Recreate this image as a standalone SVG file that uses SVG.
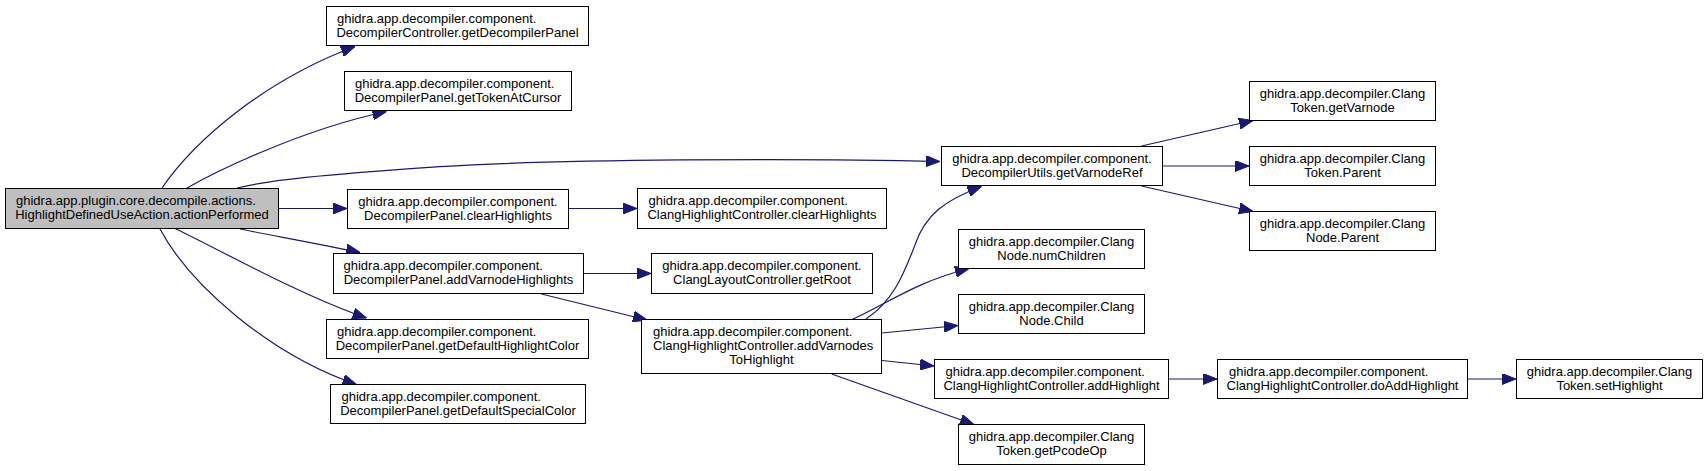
<svg xmlns="http://www.w3.org/2000/svg" width="1708" height="471" viewBox="0 0 1708 471">
<style>
rect{fill:#ffffff;stroke:#000000;stroke-width:1}
.root rect{fill:#bfbfbf}
text{font-family:"Liberation Sans",Arial,sans-serif;font-size:13px;fill:#000000}
.m{text-anchor:middle}
.e path{fill:none;stroke:#191970;stroke-width:1.2;marker-end:url(#ah)}
</style>
<defs>
<marker id="ah" markerUnits="userSpaceOnUse" markerWidth="14" markerHeight="11" viewBox="0 0 14 11" refX="14" refY="5.5" orient="auto">
<path d="M0,0 L14,5.5 L0,11 z" fill="#191970" stroke="#191970" stroke-width="1"/>
</marker>
</defs>
<rect x="0" y="0" width="1708" height="471" style="fill:#ffffff;stroke:none"/>
<g id="edges" class="e">
<path d="M162,188 C195,140 265,80 355,46.5"/>
<path d="M187,188 C215,172 300,130 386.5,111.5"/>
<path d="M237,188 C270,180 320,175 440,166.7 C560,159 800,158 940,161.5"/>
<path d="M279,208.5 H347"/>
<path d="M240,229 C270,235 330,246 360,252.5"/>
<path d="M175,228.5 C220,250 300,295 366.5,318"/>
<path d="M160,229 C190,285 270,355 356.5,384.5"/>
<path d="M569,208.5 H637"/>
<path d="M584,273.5 H651"/>
<path d="M541.5,294 L647,320"/>
<path d="M866,319 C895,300 905,270 915,245 C925,215 945,200 981.5,186.5"/>
<path d="M852,319.5 C885,305 915,282 969,268.5"/>
<path d="M882,333 L958,325.5"/>
<path d="M882,360.5 L934,366"/>
<path d="M831.7,374 L974,424.5"/>
<path d="M1141.5,146 L1253,120.5"/>
<path d="M1163,166 H1249"/>
<path d="M1141.5,186 L1253,211.5"/>
<path d="M1169,379 H1217"/>
<path d="M1468,379 H1516"/>
</g>
<g id="n0" class="root"><rect x="5.5" y="188.5" width="273" height="40"/><text x="16" y="205">ghidra.app.plugin.core.decompile.actions.</text><text class="m" x="142" y="219">HighlightDefinedUseAction.actionPerformed</text></g>
<g id="n1"><rect x="326.5" y="6.5" width="262" height="39"/><text x="337" y="23">ghidra.app.decompiler.component.</text><text class="m" x="457.5" y="37">DecompilerController.getDecompilerPanel</text></g>
<g id="n2"><rect x="344.5" y="71.5" width="227" height="39"/><text x="355" y="88">ghidra.app.decompiler.component.</text><text class="m" x="458" y="102">DecompilerPanel.getTokenAtCursor</text></g>
<g id="n3"><rect x="347.5" y="189.5" width="221" height="39"/><text class="m" x="458" y="206">ghidra.app.decompiler.component.</text><text class="m" x="458" y="220">DecompilerPanel.clearHighlights</text></g>
<g id="n4"><rect x="333.5" y="253.5" width="250" height="40"/><text x="343.5" y="270">ghidra.app.decompiler.component.</text><text class="m" x="458.5" y="284">DecompilerPanel.addVarnodeHighlights</text></g>
<g id="n5"><rect x="326.5" y="319.5" width="262" height="39"/><text x="337" y="336">ghidra.app.decompiler.component.</text><text class="m" x="457.5" y="350">DecompilerPanel.getDefaultHighlightColor</text></g>
<g id="n6"><rect x="330.5" y="384.5" width="255" height="39"/><text x="341.5" y="401">ghidra.app.decompiler.component.</text><text class="m" x="458" y="415">DecompilerPanel.getDefaultSpecialColor</text></g>
<g id="n7"><rect x="941.5" y="146.5" width="221" height="39"/><text class="m" x="1052" y="163">ghidra.app.decompiler.component.</text><text class="m" x="1052" y="177">DecompilerUtils.getVarnodeRef</text></g>
<g id="n8"><rect x="637.5" y="188.5" width="249" height="40"/><text x="648.5" y="205">ghidra.app.decompiler.component.</text><text class="m" x="762" y="219">ClangHighlightController.clearHighlights</text></g>
<g id="n9"><rect x="651.5" y="253.5" width="221" height="40"/><text class="m" x="762" y="270">ghidra.app.decompiler.component.</text><text class="m" x="762" y="284">ClangLayoutController.getRoot</text></g>
<g id="n10"><rect x="641.5" y="319.5" width="240" height="54"/><text x="653" y="336">ghidra.app.decompiler.component.</text><text x="653" y="350">ClangHighlightController.addVarnodes</text><text class="m" x="761.5" y="364">ToHighlight</text></g>
<g id="n11"><rect x="958.5" y="229.5" width="186" height="39"/><text class="m" x="1051.5" y="246">ghidra.app.decompiler.Clang</text><text class="m" x="1051.5" y="260">Node.numChildren</text></g>
<g id="n12"><rect x="958.5" y="294.5" width="186" height="39"/><text class="m" x="1051.5" y="311">ghidra.app.decompiler.Clang</text><text class="m" x="1051.5" y="325">Node.Child</text></g>
<g id="n13"><rect x="934.5" y="359.5" width="234" height="39"/><text x="945.5" y="376">ghidra.app.decompiler.component.</text><text class="m" x="1051.5" y="390">ClangHighlightController.addHighlight</text></g>
<g id="n14"><rect x="958.5" y="424.5" width="186" height="40"/><text class="m" x="1051.5" y="441">ghidra.app.decompiler.Clang</text><text class="m" x="1051.5" y="455">Token.getPcodeOp</text></g>
<g id="n15"><rect x="1249.5" y="81.5" width="186" height="39"/><text class="m" x="1342.5" y="98">ghidra.app.decompiler.Clang</text><text class="m" x="1342.5" y="112">Token.getVarnode</text></g>
<g id="n16"><rect x="1249.5" y="146.5" width="186" height="39"/><text class="m" x="1342.5" y="163">ghidra.app.decompiler.Clang</text><text class="m" x="1342.5" y="177">Token.Parent</text></g>
<g id="n17"><rect x="1249.5" y="211.5" width="186" height="39"/><text class="m" x="1342.5" y="228">ghidra.app.decompiler.Clang</text><text class="m" x="1342.5" y="242">Node.Parent</text></g>
<g id="n18"><rect x="1217.5" y="359.5" width="250" height="39"/><text x="1229" y="376">ghidra.app.decompiler.component.</text><text class="m" x="1342.5" y="390">ClangHighlightController.doAddHighlight</text></g>
<g id="n19"><rect x="1516.5" y="359.5" width="186" height="39"/><text class="m" x="1609.5" y="376">ghidra.app.decompiler.Clang</text><text class="m" x="1609.5" y="390">Token.setHighlight</text></g>
</svg>
